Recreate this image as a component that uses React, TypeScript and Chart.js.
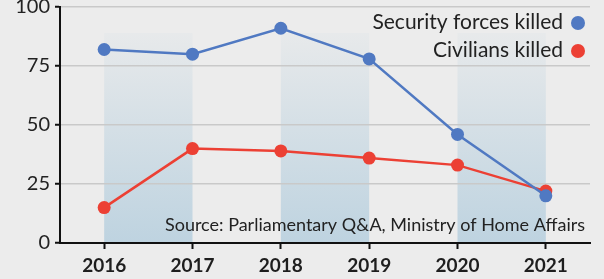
import React, { useEffect, useRef } from 'react';
import { Chart, registerables } from 'chart.js';

Chart.register(...registerables);

const years = ['2016', '2017', '2018', '2019', '2020', '2021'];
const securityForces = [82, 80, 91, 78, 46, 20];
const civilians = [15, 40, 39, 36, 33, 22];
const yTickValues = [0, 25, 50, 75, 100];
const seriesLabels = ['Security forces killed', 'Civilians killed'];
const seriesColors = ['#5079c2', '#ec4034'];
const sourceNote = 'Source: Parliamentary Q&A, Ministry of Home Affairs';
const shadedPairs = [
  ['2016', '2017'],
  ['2018', '2019'],
  ['2020', '2021'],
];

const FONT = 'Lato, "Open Sans", sans-serif';

export default function App() {
  const ref = useRef<HTMLCanvasElement | null>(null);

  useEffect(() => {
    document.body.style.margin = '0';
    const canvas = ref.current;
    if (!canvas) return;

    const bgPlugin = {
      id: 'bgBands',
      beforeDraw(chart: any) {
        const { ctx, chartArea, scales } = chart;
        ctx.save();
        ctx.fillStyle = '#ececec';
        ctx.fillRect(0, 0, chart.width, chart.height);
        const top = chartArea.top + 26;
        const bottom = chartArea.bottom;
        const g = ctx.createLinearGradient(0, top, 0, bottom);
        g.addColorStop(0, 'rgba(190,211,224,0.1)');
        g.addColorStop(1, 'rgba(190,211,224,1)');
        ctx.fillStyle = g;
        shadedPairs.forEach(([a, b]) => {
          const x0 = scales.x.getPixelForValue(years.indexOf(a));
          const x1 = scales.x.getPixelForValue(years.indexOf(b));
          ctx.fillRect(x0, top, x1 - x0, bottom - top);
        });
        ctx.restore();
      },
    };

    const overlayPlugin = {
      id: 'overlay',
      afterDraw(chart: any) {
        const { ctx } = chart;
        ctx.save();
        ctx.font = `21px ${FONT}`;
        ctx.textAlign = 'right';
        ctx.textBaseline = 'middle';
        const rows = [22, 50];
        chart.data.datasets.forEach((ds: any, i: number) => {
          ctx.fillStyle = '#222';
          ctx.fillText(ds.label, 563, rows[i]);
          ctx.beginPath();
          ctx.fillStyle = ds.borderColor;
          ctx.arc(578, rows[i] + 1, 7, 0, Math.PI * 2);
          ctx.fill();
        });
        ctx.font = `18px ${FONT}`;
        ctx.fillStyle = '#222';
        ctx.fillText(sourceNote, 585, 225);
        ctx.restore();
      },
    };

    const chart = new Chart(canvas, {
      type: 'line',
      data: {
        labels: years,
        datasets: [
          {
            label: seriesLabels[0],
            data: securityForces,
            borderColor: seriesColors[0],
            backgroundColor: seriesColors[0],
            borderWidth: 2.5,
            pointRadius: 6.5,
            pointBorderWidth: 0,
            tension: 0,
          },
          {
            label: seriesLabels[1],
            data: civilians,
            borderColor: seriesColors[1],
            backgroundColor: seriesColors[1],
            borderWidth: 2.5,
            pointRadius: 6.5,
            pointBorderWidth: 0,
            tension: 0,
          },
        ],
      },
      options: {
        responsive: false,
        animation: false,
        layout: { padding: { left: 0, right: 14, top: 7, bottom: 0 } },
        plugins: {
          legend: { display: false },
          tooltip: { enabled: false },
        },
        scales: {
          x: {
            offset: true,
            grid: {
              offset: false,
              drawOnChartArea: false,
              drawTicks: true,
              tickLength: 6,
              tickColor: '#111',
              tickWidth: 2,
            },
            border: { color: '#111', width: 2 },
            ticks: {
              color: '#1e1e1e',
              padding: 5,
              font: { family: FONT, size: 19, weight: 'bold' },
            },
            afterFit(scale: any) {
              scale.height = 36;
              scale.paddingLeft = 0;
              scale.paddingRight = 0;
            },
          },
          y: {
            min: 0,
            max: 100,
            afterBuildTicks(scale: any) {
              scale.ticks = yTickValues.map((v) => ({ value: v }));
            },
            grid: {
              color: '#c9c9c9',
              lineWidth: 1.5,
              drawTicks: true,
              tickLength: 5,
              tickColor: '#111',
              tickWidth: 2,
            },
            border: { color: '#111', width: 2 },
            ticks: {
              color: '#222',
              padding: 5,
              font: { family: FONT, size: 20 },
            },
            afterFit(scale: any) {
              scale.width = 60;
              scale.paddingTop = 0;
              scale.paddingBottom = 0;
            },
          },
        },
      },
      plugins: [bgPlugin, overlayPlugin],
    });

    return () => chart.destroy();
  }, []);

  return (
    <div style={{ position: 'absolute', left: 0, top: 0, width: 604, height: 279, background: '#ececec' }}>
      <canvas ref={ref} width={604} height={279} style={{ display: 'block' }} />
    </div>
  );
}
